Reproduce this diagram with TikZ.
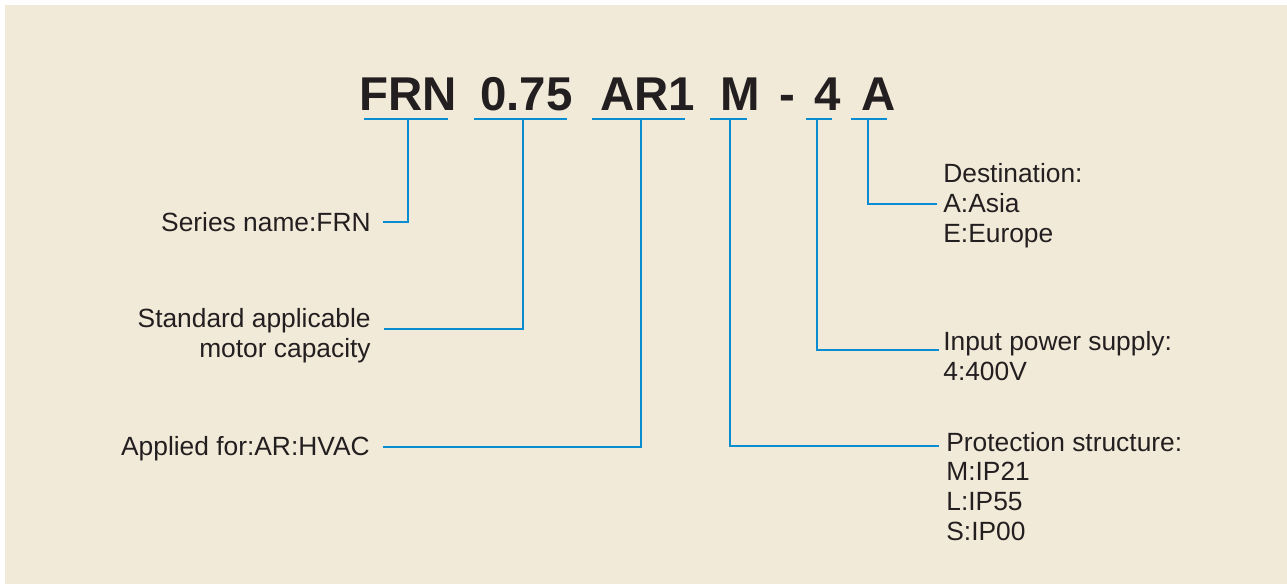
\documentclass[tikz,border=0pt]{standalone}
\usepackage{fontspec}
\setmainfont{Liberation Sans}
\usetikzlibrary{calc}
\definecolor{paper}{RGB}{242,234,216}
\definecolor{leadblue}{RGB}{8,141,210}
\definecolor{ink}{RGB}{35,31,32}

\begin{document}
\begin{tikzpicture}[x=0.02cm, y=-0.02cm,
        code/.style={font=\fontsize{27}{27}\selectfont\bfseries, text=ink, inner sep=0pt, anchor=base west},
        desc/.style={font=\fontsize{15}{16.8}\selectfont, text=ink, inner sep=0pt},
        lead/.style={leadblue, line width=1.5pt}]
        \useasboundingbox (0,0) rectangle (1287,584);
        \fill[paper] (5,5) rectangle (1287,584);

        % ticks under the type code
        \coordinate (T1) at (408,119);
        \coordinate (T2) at (523,119);
        \coordinate (T3) at (641,119);
        \coordinate (T4) at (730,119);
        \coordinate (T5) at (817,119);
        \coordinate (T6) at (868,119);

        % ends of the leaders
        \coordinate (E1) at (383,222);
        \coordinate (E2) at (384,329);
        \coordinate (E3) at (383,447);
        \coordinate (E4) at (939,446);
        \coordinate (E5) at (939,350);
        \coordinate (E6) at (937,204);

        \node[code] (frn) at (359,111) {FRN};
        \node[code] (kw) at (480,111) {0.75};
        \node[code] (app) at (600,111) {AR1};
        \node[code] (prot) at (720,111) {M};
        \node[code] (dash) at (779,111) {-};
        \node[code] (volt) at (814,111) {4};
        \node[code] (dest) at (861,111) {A};

        % base = last line of the text
        \node[desc, anchor=base east] (seriesl) at (371,232) {Series name:FRN};
        \node[desc, anchor=base east, align=right] (kwl) at (371,357) {Standard applicable\\motor capacity};
        \node[desc, anchor=base east] (appl) at (370,455) {Applied for:AR:HVAC};
        \node[desc, anchor=base west, align=left] (destl) at (943,242) {Destination:\\A:Asia\\E:Europe};
        \node[desc, anchor=base west, align=left] (voltl) at (943,380) {Input power supply:\\4:400V};
        \node[desc, anchor=base west, align=left] (protl) at (946,540) {Protection structure:\\M:IP21\\L:IP55\\S:IP00};

        \draw[lead] (364,119) -- (448,119);
        \draw[lead] (474,119) -- (567,119);
        \draw[lead] (592,119) -- (685,119);
        \draw[lead] (710,119) -- (747,119);
        \draw[lead] (806,119) -- (832,119);
        \draw[lead] (851,119) -- (887,119);

        \draw[lead] (T1) |- (E1);
        \draw[lead] (T2) |- (E2);
        \draw[lead] (T3) |- (E3);
        \draw[lead] (T4) |- (E4);
        \draw[lead] (T5) |- (E5);
        \draw[lead] (T6) |- (E6);
\end{tikzpicture}
\end{document}
